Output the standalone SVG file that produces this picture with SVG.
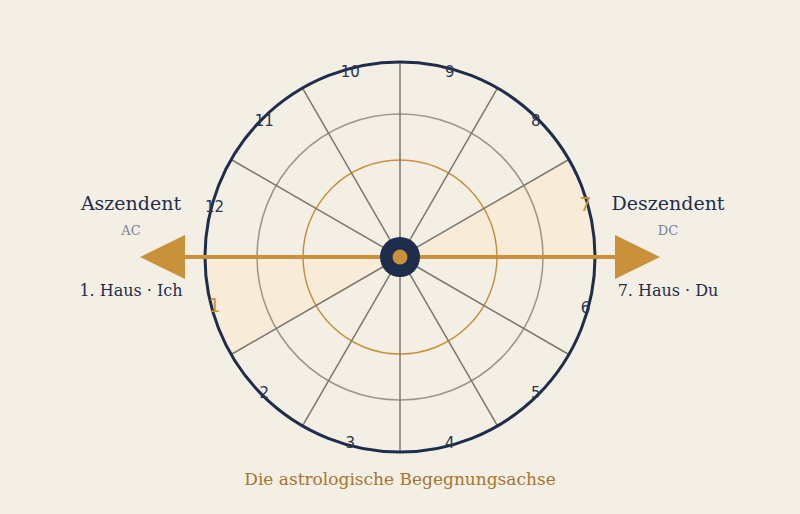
<svg xmlns="http://www.w3.org/2000/svg" width="800" height="514" viewBox="0 0 800 514">
<style>
.num{font-family:"DejaVu Sans",sans-serif;font-size:15px;fill:#2a3552;text-anchor:middle;dominant-baseline:central}
.numh{font-family:"DejaVu Sans",sans-serif;font-size:19px;fill:#c8913a;text-anchor:middle;dominant-baseline:central}
.spoke{stroke:#7d776b;stroke-width:1.5}
.lbl{font-family:"DejaVu Serif",serif;fill:#1f2d4d;text-anchor:middle}
.sub{font-family:"DejaVu Serif",serif;fill:#7a819a;text-anchor:middle;font-size:13px}
</style>
<rect width="800" height="514" fill="#f3efe4"/>
<g id="wheel">
<path d="M400,257 L595,257 A195,195 0 0 0 568.87,159.5 Z" fill="#f8ecd8"/>
<path d="M400,257 L205,257 A195,195 0 0 0 231.13,354.5 Z" fill="#f8ecd8"/>
<circle cx="400" cy="257" r="143" fill="none" stroke="#9c9684" stroke-width="1.5"/>
<circle cx="400" cy="257" r="97" fill="none" stroke="#c8913a" stroke-width="1.5"/>
<g class="spoke">
<line x1="400" y1="257" x2="568.87" y2="159.5"/>
<line x1="400" y1="257" x2="497.5" y2="88.13"/>
<line x1="400" y1="257" x2="400" y2="62"/>
<line x1="400" y1="257" x2="302.5" y2="88.13"/>
<line x1="400" y1="257" x2="231.13" y2="159.5"/>
<line x1="400" y1="257" x2="231.13" y2="354.5"/>
<line x1="400" y1="257" x2="302.5" y2="425.87"/>
<line x1="400" y1="257" x2="400" y2="452"/>
<line x1="400" y1="257" x2="497.5" y2="425.87"/>
<line x1="400" y1="257" x2="568.87" y2="354.5"/>
</g>
<circle cx="400" cy="257" r="195" fill="none" stroke="#1f2d4d" stroke-width="3"/>
</g>
<g id="houses">
<text class="numh" x="585.5" y="204">7</text>
<text class="num" x="535.8" y="121.2">8</text>
<text class="num" x="449.7" y="71.5">9</text>
<text class="num" x="350.3" y="71.5">10</text>
<text class="num" x="264.2" y="121.2">11</text>
<text class="num" x="214.5" y="207.3">12</text>
<text class="numh" x="214.5" y="305">1</text>
<text class="num" x="264.2" y="392.8">2</text>
<text class="num" x="350.3" y="442.5">3</text>
<text class="num" x="449.7" y="442.5">4</text>
<text class="num" x="535.8" y="392.8">5</text>
<text class="num" x="585.5" y="307.5">6</text>
</g>
<g id="connectors">
<line x1="183" y1="257" x2="617" y2="257" stroke="#c8913a" stroke-width="4"/>
<polygon points="140,257 185,235 185,279" fill="#c8913a"/>
<polygon points="660,257 615,235 615,279" fill="#c8913a"/>
</g>
<g id="center">
<circle cx="400" cy="257" r="20" fill="#1f2d4d"/>
<circle cx="400" cy="257" r="7.5" fill="#c8913a"/>
</g>
<g id="ac">
<text class="lbl" x="131" y="210" font-size="19">Aszendent</text>
<text class="sub" x="131" y="235">AC</text>
<text class="lbl" x="131" y="296" font-size="16">1. Haus · Ich</text>
</g>
<g id="dc">
<text class="lbl" x="668" y="210" font-size="19">Deszendent</text>
<text class="sub" x="668" y="235">DC</text>
<text class="lbl" x="668" y="296" font-size="16">7. Haus · Du</text>
</g>
<text x="400" y="485" font-family="DejaVu Serif,serif" font-size="17" fill="#a87430" text-anchor="middle">Die astrologische Begegnungsachse</text>
</svg>
